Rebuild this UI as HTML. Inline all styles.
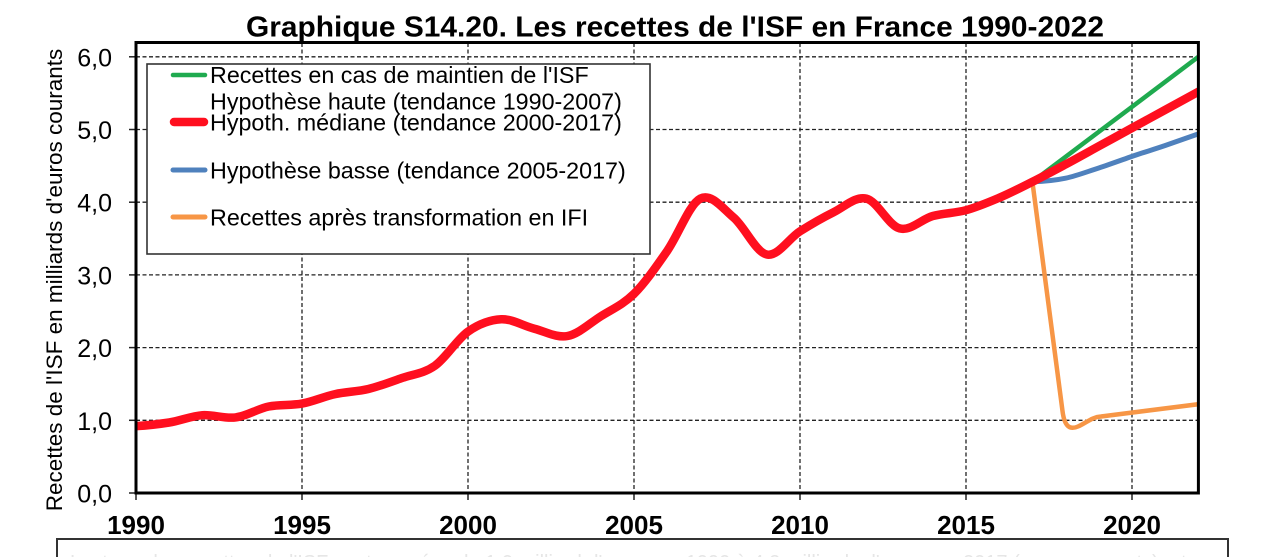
<!DOCTYPE html>
<html>
<head>
<meta charset="utf-8">
<style>
  html,body{margin:0;padding:0;background:#fff;}
  svg{display:block;}
  text{font-family:"Liberation Sans", Arial, sans-serif;}
</style>
</head>
<body>
<svg width="1275" height="557" viewBox="0 0 1275 557" xmlns="http://www.w3.org/2000/svg">
  <rect x="0" y="0" width="1275" height="557" fill="#fff"/>

  <!-- Title -->
  <text x="246" y="36.5" font-size="29" font-weight="bold" fill="#000" textLength="858" lengthAdjust="spacingAndGlyphs">Graphique S14.20. Les recettes de l'ISF en France 1990-2022</text>

  <defs>
    <clipPath id="plot">
      <rect x="136" y="42.5" width="1062.4" height="450.5"/>
    </clipPath>
    <clipPath id="note">
      <rect x="60" y="541" width="1165" height="20"/>
    </clipPath>
  </defs>

  <!-- Gridlines -->
  <g stroke="#222" stroke-width="1.3" stroke-dasharray="4 2.5" fill="none">
    <line x1="136" y1="420.3" x2="1198" y2="420.3"/>
    <line x1="136" y1="347.6" x2="1198" y2="347.6"/>
    <line x1="136" y1="274.9" x2="1198" y2="274.9"/>
    <line x1="136" y1="202.2" x2="1198" y2="202.2"/>
    <line x1="136" y1="129.5" x2="1198" y2="129.5"/>
    <line x1="136" y1="56.8" x2="1198" y2="56.8"/>
    <line x1="302" y1="43" x2="302" y2="493"/>
    <line x1="468" y1="43" x2="468" y2="493"/>
    <line x1="634" y1="43" x2="634" y2="493"/>
    <line x1="800" y1="43" x2="800" y2="493"/>
    <line x1="966" y1="43" x2="966" y2="493"/>
    <line x1="1132" y1="43" x2="1132" y2="493"/>
  </g>

  <!-- Ticks -->
  <g stroke="#222" stroke-width="1.5">
    <line x1="129" y1="493" x2="136" y2="493"/>
    <line x1="129" y1="420.3" x2="136" y2="420.3"/>
    <line x1="129" y1="347.6" x2="136" y2="347.6"/>
    <line x1="129" y1="274.9" x2="136" y2="274.9"/>
    <line x1="129" y1="202.2" x2="136" y2="202.2"/>
    <line x1="129" y1="129.5" x2="136" y2="129.5"/>
    <line x1="129" y1="56.8" x2="136" y2="56.8"/>
    <line x1="136" y1="493" x2="136" y2="500"/>
    <line x1="302" y1="493" x2="302" y2="500"/>
    <line x1="468" y1="493" x2="468" y2="500"/>
    <line x1="634" y1="493" x2="634" y2="500"/>
    <line x1="800" y1="493" x2="800" y2="500"/>
    <line x1="966" y1="493" x2="966" y2="500"/>
    <line x1="1132" y1="493" x2="1132" y2="500"/>
  </g>

  <!-- Legend box -->
  <rect x="147" y="64" width="503" height="190" fill="#fff" stroke="#333" stroke-width="1.6"/>
  <g stroke-linecap="round" fill="none">
    <line x1="173" y1="75" x2="205" y2="75" stroke="#1faa4f" stroke-width="4.5"/>
    <line x1="174" y1="122" x2="204" y2="122" stroke="#ff0f1f" stroke-width="8.5"/>
    <line x1="173" y1="170" x2="205" y2="170" stroke="#4f81bd" stroke-width="5"/>
    <line x1="173" y1="217" x2="205" y2="217" stroke="#f79646" stroke-width="5"/>
  </g>
  <g font-size="23.3" fill="#000">
    <text x="210" y="83">Recettes en cas de maintien de l'ISF</text>
    <text x="210" y="109.5">Hypothèse haute (tendance 1990-2007)</text>
    <text x="210" y="130.5">Hypoth. médiane (tendance 2000-2017)</text>
    <text x="210" y="178.5">Hypothèse basse (tendance 2005-2017)</text>
    <text x="210" y="225.5">Recettes après transformation en IFI</text>
  </g>

  <!-- Series -->
  <g clip-path="url(#plot)" fill="none" stroke-linecap="round" stroke-linejoin="round">
    <path d="M1032.4,181.8 L1198.4,56.8" stroke="#1faa4f" stroke-width="4.5"/>
    <path d="M1032.4,181.8 C1043.5,181.5 1054.5,180.5 1065.6,178.2 C1076.7,175.8 1087.7,171.5 1098.8,168.0 C1109.9,164.3 1120.9,160.3 1132.0,156.4 C1143.1,152.6 1154.1,149.3 1165.2,145.5 L1198.4,133.9" stroke="#4f81bd" stroke-width="5"/>
    <path d="M1032.4,181.8 L1062.5,411 C1064.5,427 1070,430 1078,426.5 C1086,423 1092,417 1101,416.5 L1200,404" stroke="#f79646" stroke-width="4.5"/>
    <path d="M136,426.1 C147.1,425.5 158.1,424.3 169.2,422.5 C180.3,420.7 191.3,416.1 202.4,415.2 C213.5,414.4 224.5,418.9 235.6,417.4 C246.7,416.0 257.7,408.8 268.8,406.5 C279.9,404.2 290.9,405.7 302.0,403.6 C313.1,401.5 324.1,396.5 335.2,394.1 C346.3,391.7 357.3,391.7 368.4,389.0 C379.5,386.3 390.5,382.0 401.6,378.1 C412.7,374.2 423.7,373.6 434.8,365.8 C445.9,358.1 456.9,339.4 468.0,331.6 C479.1,323.9 490.1,319.8 501.2,319.3 C512.3,318.8 523.3,325.9 534.4,328.7 C545.5,331.5 556.5,338.1 567.6,336.0 C578.7,333.9 589.7,323.3 600.8,316.3 C611.9,309.3 622.9,304.7 634.0,293.8 C645.1,282.9 656.1,266.8 667.2,250.9 C678.3,235.0 689.3,204.2 700.4,198.6 C711.5,193.0 722.5,208.2 733.6,217.5 C744.7,226.8 755.7,252.2 766.8,254.5 C777.9,256.8 788.9,238.3 800.0,231.3 C811.1,224.3 822.1,217.9 833.2,212.4 C844.3,207.0 855.3,195.9 866.4,198.6 C877.5,201.3 888.5,225.5 899.6,228.4 C910.7,231.3 921.7,219.0 932.8,216.0 C943.9,213.0 954.9,213.2 966.0,210.2 C977.1,207.2 988.1,202.5 999.2,197.8 C1010.3,193.1 1021.3,187.4 1032.4,181.8 C1043.5,176.2 1054.5,170.3 1065.6,164.4 C1076.7,158.5 1087.7,152.3 1098.8,146.2 C1109.9,140.1 1120.9,134.1 1132.0,128.0 C1143.1,122.0 1154.1,115.9 1165.2,109.9 C1176.3,103.9 1187.3,97.8 1200,90.8" stroke="#ff0f1f" stroke-width="8.5"/>
  </g>

  <!-- Plot border -->
  <rect x="136" y="42.5" width="1062.4" height="450.5" fill="none" stroke="#000" stroke-width="3"/>

  <!-- Y tick labels -->
  <g font-size="25" fill="#000" text-anchor="end">
    <text x="112" y="502.5">0,0</text>
    <text x="112" y="429.8">1,0</text>
    <text x="112" y="357.1">2,0</text>
    <text x="112" y="284.4">3,0</text>
    <text x="112" y="211.7">4,0</text>
    <text x="112" y="139">5,0</text>
    <text x="112" y="66.3">6,0</text>
  </g>

  <!-- X tick labels -->
  <g font-size="26" font-weight="bold" fill="#000" text-anchor="middle">
    <text x="136" y="534">1990</text>
    <text x="302" y="534">1995</text>
    <text x="468" y="534">2000</text>
    <text x="634" y="534">2005</text>
    <text x="800" y="534">2010</text>
    <text x="966" y="534">2015</text>
    <text x="1132" y="534">2020</text>
  </g>

  <!-- Y axis title -->
  <text transform="translate(62,280) rotate(-90)" font-size="22.5" fill="#000" text-anchor="middle">Recettes de l'ISF en milliards d'euros courants</text>

  <!-- Bottom note box (cut off) -->
  <path d="M57,557 L57,539 L1228,539 L1228,557" fill="none" stroke="#333" stroke-width="2"/>
  <g clip-path="url(#note)">
    <text x="70" y="569" font-size="20" fill="#e6e6e6">Lecture : les recettes de l'ISF sont passées de 1,0 milliard d'euros en 1990 à 4,2 milliards d'euros en 2017 (euros courants), et auraient atteint</text>
  </g>
</svg>
</body>
</html>
